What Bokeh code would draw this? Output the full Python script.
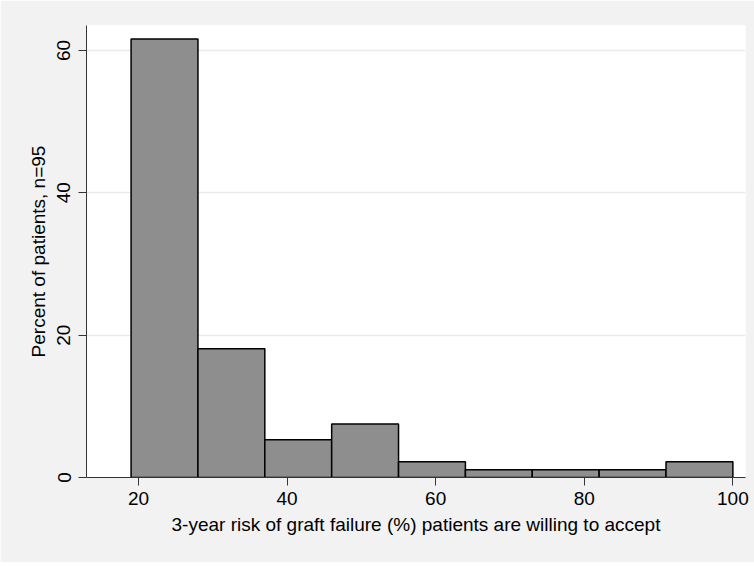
from bokeh.plotting import figure
from bokeh.models import Range1d, FixedTicker
from bokeh.embed import file_html
from bokeh.resources import INLINE

# Data (percent of 95 patients per 9-point bin)
bin_left = [19, 28, 37, 46, 55, 64, 73, 82, 91]
bin_right = [28, 37, 46, 55, 64, 73, 82, 91, 100]
percent = [61.6, 18.1, 5.3, 7.5, 2.2, 1.1, 1.1, 1.1, 2.2]
x_ticks = [20, 40, 60, 80, 100]
y_ticks = [0, 20, 40, 60]

p = figure(width=754, height=562, output_backend="svg", toolbar_location=None,
           x_range=Range1d(13.0, 101.7), y_range=Range1d(0, 63.5),
           min_border_left=86, min_border_right=9, min_border_top=25, min_border_bottom=85)

p.background_fill_color = "white"
p.border_fill_color = "#F2F2F2"
p.outline_line_color = None

p.quad(left=bin_left, right=bin_right, bottom=0, top=percent,
       fill_color="#8E8E8E", line_color="black", line_width=1.5)

font = "Liberation Sans"
for ax in (p.xaxis, p.yaxis):
    ax.major_label_text_font = font
    ax.major_label_text_font_size = "19px"
    ax.major_label_text_color = "black"
    ax.axis_label_text_font = font
    ax.axis_label_text_font_size = "19px"
    ax.axis_label_text_font_style = "normal"
    ax.axis_label_text_color = "black"
    ax.axis_line_color = "#333333"
    ax.axis_line_width = 1
    ax.major_tick_line_color = "#333333"
    ax.major_tick_out = 8
    ax.major_tick_in = 0
    ax.minor_tick_line_color = None

p.xaxis.ticker = FixedTicker(ticks=x_ticks)
p.yaxis.ticker = FixedTicker(ticks=y_ticks)
p.yaxis.major_label_orientation = "vertical"
p.xaxis.axis_label = "3-year risk of graft failure (%) patients are willing to accept"
p.yaxis.axis_label = "Percent of patients, n=95"
p.xaxis.major_label_standoff = 6
p.yaxis.major_label_standoff = 8
p.xaxis.axis_label_standoff = 6
p.yaxis.axis_label_standoff = 6

p.xgrid.grid_line_color = None
p.ygrid.grid_line_color = "#EAEAEA"
p.ygrid.grid_line_width = 1.5
p.ygrid.ticker = FixedTicker(ticks=[20, 40, 60])

open("out.html", "w").write(file_html(p, INLINE))
